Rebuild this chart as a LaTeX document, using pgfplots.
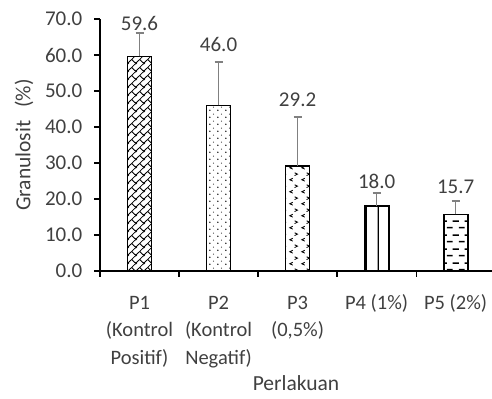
\documentclass[border=0pt]{standalone}
\usepackage{fontspec}
\setmainfont{Carlito}
\usepackage{pgfplots}
\pgfplotsset{compat=1.18}
\usetikzlibrary{patterns}
\definecolor{tc}{RGB}{64,64,64}
\definecolor{eg}{RGB}{128,128,128}

\pgfdeclarepatternformonly{dbrick}{\pgfqpoint{0bp}{0bp}}{\pgfqpoint{8bp}{8bp}}{\pgfqpoint{8bp}{8bp}}{
  \pgfsetlinewidth{0.9bp}
  \pgfpathmoveto{\pgfqpoint{-1bp}{-1bp}}\pgfpathlineto{\pgfqpoint{9bp}{9bp}}
  \pgfpathmoveto{\pgfqpoint{-1bp}{7bp}}\pgfpathlineto{\pgfqpoint{1bp}{9bp}}
  \pgfpathmoveto{\pgfqpoint{7bp}{-1bp}}\pgfpathlineto{\pgfqpoint{9bp}{1bp}}
  \pgfpathmoveto{\pgfqpoint{4bp}{4bp}}\pgfpathlineto{\pgfqpoint{8.5bp}{-0.5bp}}
  \pgfusepath{stroke}
}
\pgfdeclarepatternformonly{sdots}{\pgfqpoint{0bp}{0bp}}{\pgfqpoint{8bp}{7bp}}{\pgfqpoint{8bp}{7bp}}{
  \pgfpathcircle{\pgfqpoint{2bp}{2bp}}{0.9bp}
  \pgfpathcircle{\pgfqpoint{6bp}{5.5bp}}{0.6bp}
  \pgfusepath{fill}
}
\pgfdeclarepatternformonly{chevs}{\pgfqpoint{0bp}{0bp}}{\pgfqpoint{12bp}{12bp}}{\pgfqpoint{12bp}{12bp}}{
  \pgfsetlinewidth{0.9bp}
  \pgfpathmoveto{\pgfqpoint{5bp}{5bp}}\pgfpathlineto{\pgfqpoint{2bp}{3.5bp}}\pgfpathlineto{\pgfqpoint{5bp}{2bp}}
  \pgfpathmoveto{\pgfqpoint{7bp}{11bp}}\pgfpathlineto{\pgfqpoint{10bp}{9.5bp}}\pgfpathlineto{\pgfqpoint{7bp}{8bp}}
  \pgfusepath{stroke}
}
\pgfdeclarepatternformonly{vlines}{\pgfqpoint{0bp}{0bp}}{\pgfqpoint{12bp}{12bp}}{\pgfqpoint{12bp}{12bp}}{
  \pgfsetlinewidth{1.3bp}
  \pgfpathmoveto{\pgfqpoint{6.6bp}{-1bp}}\pgfpathlineto{\pgfqpoint{6.6bp}{13bp}}
  \pgfusepath{stroke}
}
\pgfdeclarepatternformonly{hdash}{\pgfqpoint{0bp}{0bp}}{\pgfqpoint{12bp}{14bp}}{\pgfqpoint{12bp}{14bp}}{
  \pgfsetlinewidth{1.5bp}
  \pgfpathmoveto{\pgfqpoint{3bp}{3.5bp}}\pgfpathlineto{\pgfqpoint{9bp}{3.5bp}}
  \pgfpathmoveto{\pgfqpoint{-1bp}{10.5bp}}\pgfpathlineto{\pgfqpoint{3bp}{10.5bp}}
  \pgfpathmoveto{\pgfqpoint{9bp}{10.5bp}}\pgfpathlineto{\pgfqpoint{13bp}{10.5bp}}
  \pgfusepath{stroke}
}

\begin{document}
\begin{tikzpicture}
\begin{axis}[
  at={(0,0)}, anchor=south west,
  scale only axis, width=392bp, height=252bp,
  xmin=-0.5, xmax=4.46, ymin=0, ymax=70,
  axis x line*=bottom, axis y line*=left,
  axis line style={black, line width=1.5bp},
  tick align=outside,
  major tick length=5.5bp,
  tick style={black, line width=1.2bp},
  ytick={0,10,...,70},
  /pgf/number format/assume math mode=true,
  yticklabel={\pgfmathprintnumber[fixed, fixed zerofill, precision=1]{\tick}},
  yticklabel style={font=\fontsize{21bp}{24bp}\selectfont, text=tc, inner sep=0pt, xshift=-12bp},
  xtick={-0.5,0.5,...,4.5}, xticklabels={},
  extra x ticks={0,1,2,3,4},
  extra x tick labels={{\strut P1\\(Kontrol\\Positif)},{\strut P2\\(Kontrol\\Negatif)},{\strut P3\\(0{,}5\%)},{\strut P4 (1\%)},{\strut P5 (2\%)}},
  extra x tick style={major tick length=0pt, xticklabel style={align=center, font=\fontsize{20.5bp}{27.5bp}\selectfont, text=tc, anchor=north, inner sep=0pt, yshift=-19bp}},
  ybar, bar width=24bp, bar shift=0pt,
  ylabel={Granulosit\hspace{8bp} (\%)},
  ylabel style={at={(rel axis cs:0,0.5)}, anchor=center, yshift=76bp, font=\fontsize{21.5bp}{25bp}\selectfont, text=tc},
  xlabel={Perlakuan},
  xlabel style={at={(rel axis cs:0.5,0)}, anchor=base, yshift=-119bp, font=\fontsize{21.5bp}{25bp}\selectfont, text=tc},
  clip=false,
  error bars/error bar style={eg, line width=1.6bp},
  error bars/error mark options={eg, line width=1.6bp, mark size=4bp, rotate=90},
]
\addplot[draw=black, line width=1.8bp, pattern=dbrick, error bars/.cd, y dir=plus, y explicit] coordinates {(0,59.6) +- (0,6.5)};
\addplot[draw=black, line width=1.8bp, pattern=sdots, error bars/.cd, y dir=plus, y explicit] coordinates {(1,46.0) +- (0,12.1)};
\addplot[draw=black, line width=1.8bp, pattern=chevs, error bars/.cd, y dir=plus, y explicit] coordinates {(2,29.2) +- (0,13.5)};
\addplot[draw=black, line width=1.8bp, pattern=vlines, error bars/.cd, y dir=plus, y explicit] coordinates {(3,18.0) +- (0,3.75)};
\addplot[draw=black, line width=1.8bp, pattern=hdash, error bars/.cd, y dir=plus, y explicit] coordinates {(4,15.7) +- (0,3.7)};
\addplot[draw=none, fill=none, nodes near coords, point meta=explicit symbolic,
  nodes near coords style={anchor=south, inner sep=0pt, font=\fontsize{21bp}{24bp}\selectfont, text=tc}]
  coordinates {(0,66.7)[59.6] (1,60.8)[46.0] (2,45.6)[29.2] (3,22.8)[18.0] (4,21.4)[15.7]};
\end{axis}
\pgfresetboundingbox
\path[use as bounding box] (-100bp,-128bp) rectangle (392bp,271bp);
\end{tikzpicture}
\end{document}
